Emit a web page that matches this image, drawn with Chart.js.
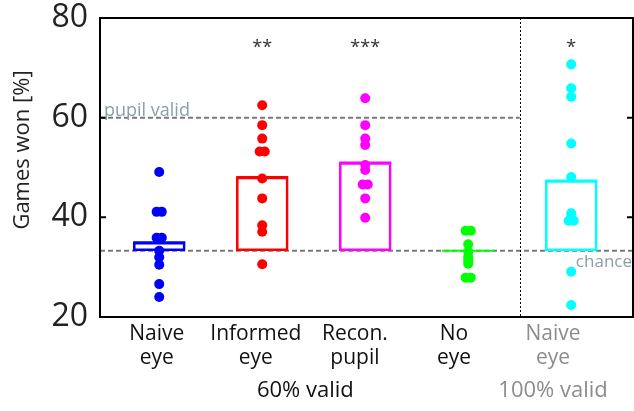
<!DOCTYPE html>
<html>
<head>
<meta charset="utf-8">
<script src="https://cdn.jsdelivr.net/npm/chart.js@4"></script>
<style>
  html, body { margin: 0; padding: 0; background: #fff; }
  canvas { display: block; }
</style>
</head>
<body>
<canvas id="c" width="634" height="411"></canvas>
<script>
// ---- data ----
const categories = [['Naive', 'eye'], ['Informed', 'eye'], ['Recon.', 'pupil'], ['No', 'eye'], ['Naive', 'eye']];
const groupLabels = ['60% valid', '100% valid'];
const groupMembers = [[0, 1, 2, 3], [4]];
const naiveEye = [49.1, 41.1, 41.1, 35.9, 35.9, 33.3, 32.0, 30.5, 26.6, 24.0];
const informedEye = [62.5, 58.5, 55.8, 53.2, 53.2, 47.8, 43.8, 38.4, 37.1, 30.6];
const reconPupil = [63.9, 58.5, 55.8, 54.5, 50.5, 49.5, 46.6, 46.6, 43.8, 39.9];
const noEye = [37.3, 37.3, 34.6, 33.1, 32.1, 31.4, 30.7, 27.9, 27.9];
const naiveEye100 = [70.7, 65.9, 64.2, 54.8, 48.1, 40.8, 39.3, 39.3, 29.1, 22.4];
const means = [35.0, 48.1, 51.0, 33.3, 47.4];
const stars = ['', '**', '***', '', '*'];
const chance = 33.3;
const pupilValid = 60;
const yTicks = [20, 40, 60, 80];

// ---- styles ----
const colors = ['#0000ff', '#ff0000', '#ff00ff', '#00ff00', '#00ffff'];
const FONT = "'Open Sans', 'Noto Sans', sans-serif";
const refTextColor = '#8a9ea4';
const grayLabel = '#8c8c8c';
const labelSpacing = 0.962, labelShift = -0.024; // label placement (layout)
const dupStep = 0.05;

const series = [naiveEye, informedEye, reconPupil, noEye, naiveEye100];

function jittered(values, idx) {
  const counts = {};
  values.forEach(v => counts[v] = (counts[v] || 0) + 1);
  const seen = {};
  return values.map(v => {
    const n = counts[v];
    const k = seen[v] = (seen[v] === undefined ? 0 : seen[v] + 1);
    return { x: idx + (k - (n - 1) / 2) * dupStep, y: v };
  });
}

const datasets = [];
datasets.push({
  type: 'bar',
  data: means.map((m, i) => ({ x: i, y: [chance, m] })),
  backgroundColor: 'rgba(0,0,0,0)',
  borderColor: colors,
  borderWidth: 2,
  borderSkipped: false,
  barThickness: 52,
  order: 3
});
datasets.push({
  type: 'scatter',
  data: means.map((m, i) => ({ x: i, y: m })),
  pointStyle: 'line',
  pointRadius: 26,
  pointBorderWidth: 2,
  pointBorderColor: colors,
  order: 2
});
series.forEach((vals, i) => {
  datasets.push({
    type: 'scatter',
    data: jittered(vals, i),
    pointRadius: 5,
    pointBorderWidth: 0,
    pointBackgroundColor: colors[i],
    pointBorderColor: colors[i],
    order: 1
  });
});

const labelPos = i => i * labelSpacing + labelShift;

const annot = {
  id: 'annot',
  beforeDatasetsDraw(chart) {
    const { ctx, chartArea: a, scales: { x, y } } = chart;
    ctx.save();
    ctx.strokeStyle = '#7a7a7a';
    ctx.lineWidth = 2;
    ctx.setLineDash([5, 3]);
    ctx.beginPath();
    ctx.moveTo(a.left, y.getPixelForValue(pupilValid));
    ctx.lineTo(x.getPixelForValue(3.5), y.getPixelForValue(pupilValid));
    ctx.moveTo(a.left, y.getPixelForValue(chance));
    ctx.lineTo(a.right, y.getPixelForValue(chance));
    ctx.stroke();
    // divider
    ctx.strokeStyle = '#000';
    ctx.lineWidth = 1;
    ctx.setLineDash([2, 2]);
    ctx.beginPath();
    const dx = Math.round(x.getPixelForValue(3.5)) + 0.5;
    ctx.moveTo(dx, a.top);
    ctx.lineTo(dx, a.bottom);
    ctx.stroke();
    ctx.restore();
  },
  afterDatasetsDraw(chart) {
    const { ctx, chartArea: a, scales: { x, y } } = chart;
    ctx.save();
    // frame
    ctx.strokeStyle = '#000';
    ctx.lineWidth = 2;
    ctx.setLineDash([]);
    ctx.strokeRect(a.left, a.top, a.right - a.left, a.bottom - a.top);
    // inward ticks
    ctx.beginPath();
    yTicks.forEach(v => {
      const py = y.getPixelForValue(v);
      ctx.moveTo(a.left, py); ctx.lineTo(a.left + 6, py);
      ctx.moveTo(a.right, py); ctx.lineTo(a.right - 6, py);
    });
    ctx.stroke();
    // stars
    ctx.fillStyle = '#333';
    ctx.font = '18px ' + FONT;
    ctx.textAlign = 'center';
    ctx.textBaseline = 'middle';
    stars.forEach((s, i) => {
      if (s) ctx.fillText(s, x.getPixelForValue(i), y.getPixelForValue(75) + 5);
    });
    // reference labels
    ctx.fillStyle = refTextColor;
    ctx.font = '18px ' + FONT;
    ctx.textAlign = 'left';
    ctx.textBaseline = 'alphabetic';
    ctx.fillText('pupil valid', a.left + 4, y.getPixelForValue(pupilValid) - 2);
    ctx.font = '17px ' + FONT;
    ctx.textAlign = 'right';
    ctx.fillText('chance', a.right - 1, y.getPixelForValue(chance) + 16);
    // category labels
    ctx.font = '21px ' + FONT;
    ctx.textAlign = 'center';
    ctx.textBaseline = 'alphabetic';
    categories.forEach((lines, i) => {
      ctx.fillStyle = i === 4 ? grayLabel : '#111';
      const px = x.getPixelForValue(labelPos(i));
      lines.forEach((t, k) => ctx.fillText(t, px, a.bottom + 23 + k * 24));
    });
    // group labels
    ctx.font = '22px ' + FONT;
    groupLabels.forEach((g, gi) => {
      const mem = groupMembers[gi];
      const c = mem.reduce((s, i) => s + labelPos(i), 0) / mem.length;
      ctx.fillStyle = gi === 0 ? '#111' : grayLabel;
      ctx.fillText(g, x.getPixelForValue(c), a.bottom + 80);
    });
    // y title
    ctx.translate(23, 150);
    ctx.rotate(-Math.PI / 2);
    ctx.fillStyle = '#222';
    ctx.font = '22px ' + FONT;
    ctx.textAlign = 'center';
    ctx.textBaseline = 'middle';
    ctx.fillText('Games won [%]', 0, 0);
    ctx.restore();
  }
};

new Chart(document.getElementById('c'), {
  type: 'scatter',
  data: { datasets },
  options: {
    responsive: false,
    animation: false,
    events: [],
    layout: { autoPadding: false, padding: { top: 18, right: 1, left: 0, bottom: 0 } },
    plugins: { legend: { display: false }, tooltip: { enabled: false } },
    scales: {
      x: {
        type: 'linear',
        min: -0.575,
        max: 4.6,
        offset: false,
        grid: { display: false, drawTicks: false },
        border: { display: false },
        ticks: { display: false },
        afterFit: s => { s.height = 94; }
      },
      y: {
        min: 20,
        max: 80,
        grid: { display: false, drawTicks: true, tickLength: 12 },
        border: { display: false },
        afterBuildTicks: s => { s.ticks = yTicks.map(v => ({ value: v })); },
        afterFit: s => { s.width = 100; },
        ticks: {
          padding: 0,
          font: { family: FONT, size: 32, lineHeight: 1.0 },
          color: '#222'
        }
      }
    }
  },
  plugins: [annot]
});
</script>
</body>
</html>
